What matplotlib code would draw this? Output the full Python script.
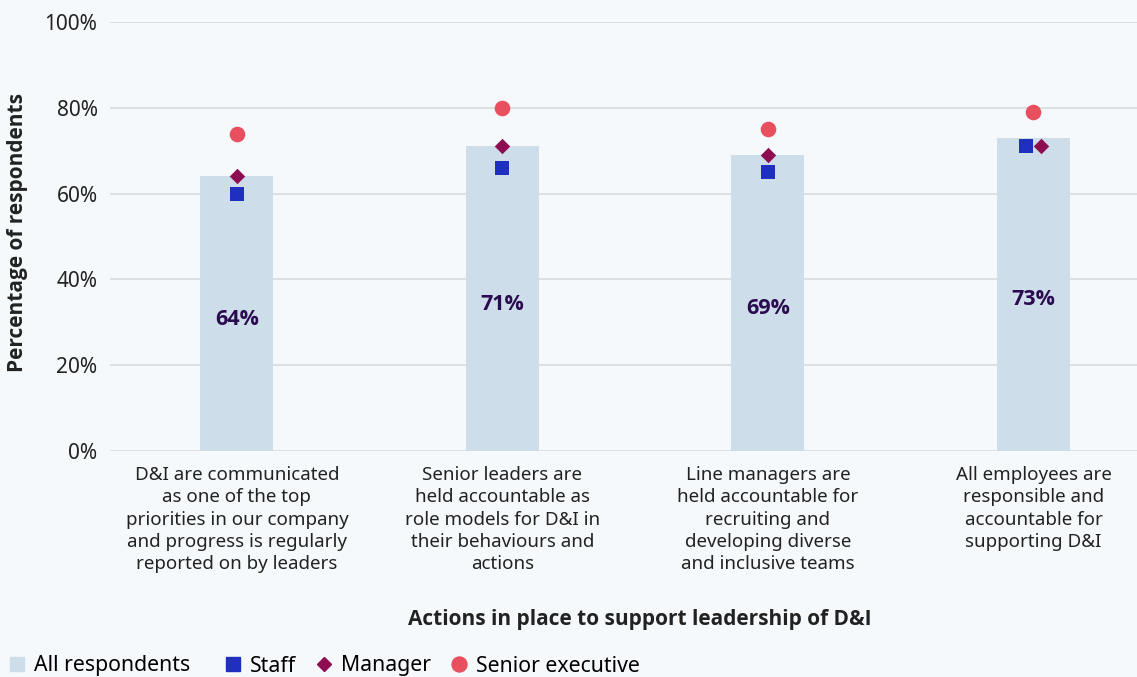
import matplotlib.pyplot as plt
import numpy as np
from matplotlib.lines import Line2D

plt.rcParams['font.family'] = ['Noto Sans', 'DejaVu Sans']

categories = ["D&I are communicated\nas one of the top\npriorities in our company\nand progress is regularly\nreported on by leaders",
              "Senior leaders are\nheld accountable as\nrole models for D&I in\ntheir behaviours and\nactions",
              "Line managers are\nheld accountable for\nrecruiting and\ndeveloping diverse\nand inclusive teams",
              "All employees are\nresponsible and\naccountable for\nsupporting D&I"]
all_resp = [64, 71, 69, 73]
staff = [60, 66, 65, 71]
manager = [64, 71, 69, 71]
senior = [74, 80, 75, 79]

bg = '#f6f9fc'
bold_font = ['Open Sans', 'DejaVu Sans']
fig = plt.figure(figsize=(11.37, 6.77), dpi=100, facecolor=bg)
ax = fig.add_axes([110/1137, 1-451/677, 1-110/1137, (451-22)/677])
ax.set_facecolor(bg)

x = np.arange(len(categories))
ax.bar(x, all_resp, width=0.275, color='#cddde9', zorder=2)
for xi, v in zip(x, all_resp):
    ax.annotate(f"{v}%", (xi, v/2), xytext=(0, -4), textcoords='offset points',
                ha='center', va='center', fontsize=15.5, fontweight='bold',
                family=bold_font, color='#2b0b4f', zorder=4)

# dodge staff/manager where they overlap
dodge = np.array([0.027 if s == m else 0 for s, m in zip(staff, manager)])
ax.scatter(x - dodge, staff, marker='s', s=105, color='#1f2fbf', zorder=3, linewidths=0)
ax.scatter(x + dodge, manager, marker='D', s=62, color='#8e0c52', zorder=3, linewidths=0)
ax.scatter(x, senior, marker='o', s=126, color='#e8505f', zorder=3, linewidths=0)

ax.set_ylim(0, 100)
ax.set_xlim(-0.478, 3.39)
ax.set_yticks(range(0, 101, 20))
ax.set_yticklabels([f"{t}%" for t in range(0, 101, 20)])
ax.set_xticks(x)
ax.set_xticklabels(categories, linespacing=1.3)
ax.tick_params(length=0, colors='#222222')
ax.tick_params(axis='y', labelsize=15, pad=9)
ax.tick_params(axis='x', labelsize=13.5, pad=11)
ax.grid(axis='y', color='#d8dcdf', linewidth=1.2, zorder=0)
for s in ax.spines.values():
    s.set_visible(False)

fig.text(18/1137, 1-233/677, "Percentage of respondents", rotation=90,
         ha='center', va='center', fontsize=15, fontweight='bold', family=bold_font, color='#222222')
fig.text(640/1137, 1-619/677, "Actions in place to support leadership of D&I",
         ha='center', va='center', fontsize=15, fontweight='bold', family=bold_font, color='#222222')

leg_y = 1 - 666/677
h_all = [Line2D([], [], marker='s', ls='', color='#cddde9', markersize=10)]
h_pts = [Line2D([], [], marker='s', ls='', color='#1f2fbf', markersize=10),
         Line2D([], [], marker='D', ls='', color='#8e0c52', markersize=7.2),
         Line2D([], [], marker='o', ls='', color='#e8505f', markersize=10.8)]
leg1 = fig.legend(h_all, ["All respondents"], loc='center left',
                  bbox_to_anchor=(6/1137, leg_y), frameon=False, fontsize=15.3,
                  handletextpad=0.3, handlelength=1, borderpad=0, borderaxespad=0)
fig.legend(h_pts, ["Staff", "Manager", "Senior executive"], loc='center left',
           bbox_to_anchor=(222/1137, leg_y), ncol=3, frameon=False, fontsize=15.3,
           handletextpad=0.3, columnspacing=0.82, handlelength=1, borderpad=0,
           borderaxespad=0)

fig.savefig('out.png', dpi=100, facecolor=bg)
